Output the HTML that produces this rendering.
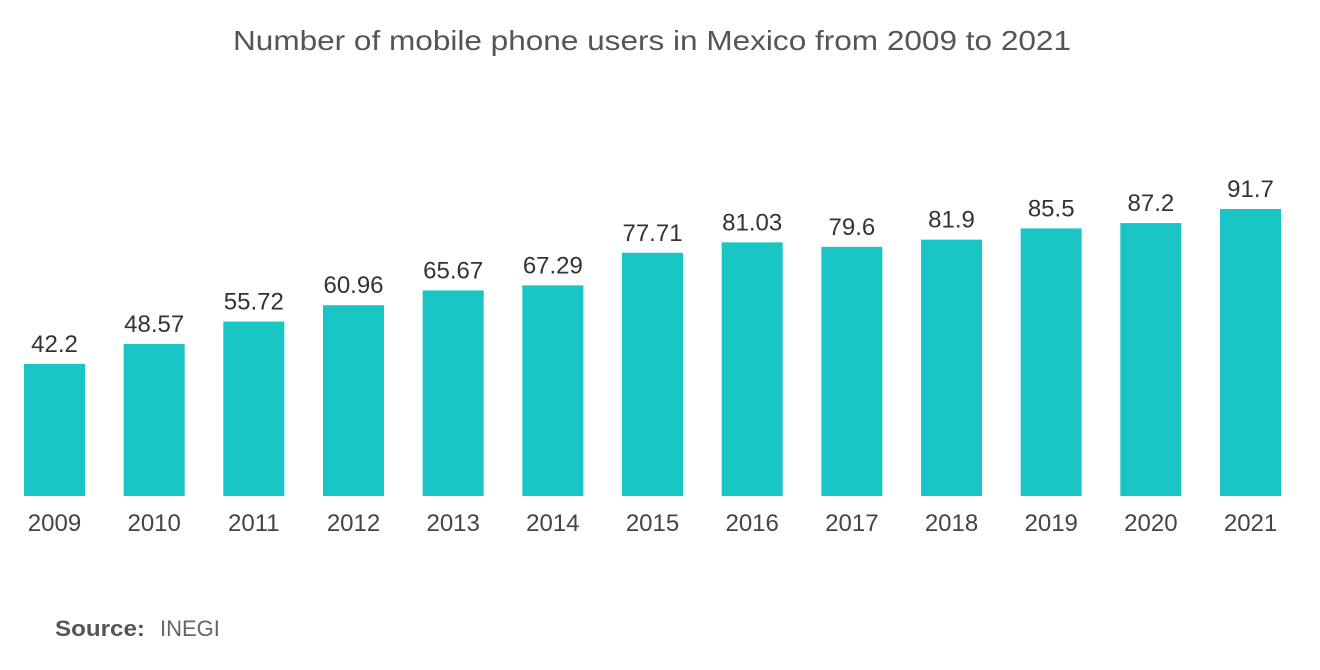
<!DOCTYPE html>
<html><head><meta charset="utf-8"><style>
body{margin:0;background:#fff;width:1320px;height:665px;overflow:hidden;font-family:"Liberation Sans",sans-serif}
</style></head><body>
<svg width="1320" height="665">
<text x="233" y="50" font-size="28" fill="#555" textLength="838" lengthAdjust="spacingAndGlyphs">Number of mobile phone users in Mexico from 2009 to 2021</text>
<g id="bars"></g>
<text x="55" y="636" font-size="22" fill="#555" font-weight="bold" textLength="90" lengthAdjust="spacingAndGlyphs">Source:</text>
<text x="160" y="636" font-size="22" fill="#666">INEGI</text>
</svg>
<script>
const categories=["2009","2010","2011","2012","2013","2014","2015","2016","2017","2018","2019","2020","2021"];
const values=[42.2,48.57,55.72,60.96,65.67,67.29,77.71,81.03,79.6,81.9,85.5,87.2,91.7];
const labels=["42.2","48.57","55.72","60.96","65.67","67.29","77.71","81.03","79.6","81.9","85.5","87.2","91.7"];
const base=496,scale=3.13,x0=24,step=99.67,bw=61;
const xs=i=>x0+i*step, ys=v=>base-v*scale;
const g=document.getElementById('bars'),NS='http://www.w3.org/2000/svg';
categories.forEach((c,i)=>{
 const r=document.createElementNS(NS,'rect');
 r.setAttribute('x',xs(i));r.setAttribute('y',ys(values[i]));r.setAttribute('width',bw);r.setAttribute('height',base-ys(values[i]));r.setAttribute('fill','#19c5c5');
 
 
 g.appendChild(r);
 const t=document.createElementNS(NS,'text');
 t.setAttribute('x',xs(i)+bw/2);t.setAttribute('y',ys(values[i])-12);t.setAttribute('text-anchor','middle');t.setAttribute('font-size','24');t.setAttribute('fill','#333');t.textContent=labels[i];
 
 
 g.appendChild(t);
 const a=document.createElementNS(NS,'text');
 a.setAttribute('x',xs(i)+bw/2);a.setAttribute('y',531);a.setAttribute('text-anchor','middle');a.setAttribute('font-size','24');a.setAttribute('fill','#444');a.textContent=c;
 
 
 g.appendChild(a);
});
</script>
</body></html>
